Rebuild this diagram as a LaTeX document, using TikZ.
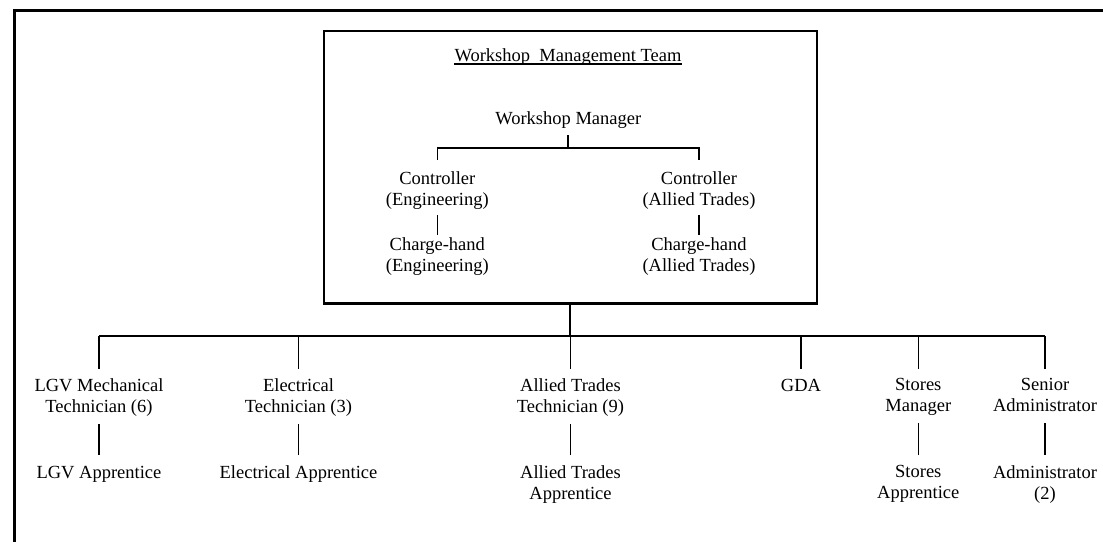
\documentclass[tikz,border=0pt]{standalone}
\usepackage{fontspec}
\setmainfont{Liberation Serif}
\begin{document}
\begin{tikzpicture}[x=1pt,y=-1pt,
  role/.style={align=center,inner sep=0pt,anchor=north,
    font=\fontsize{18.5pt}{21pt}\selectfont,
    execute at begin node={\rule{0pt}{13pt}},
    execute at end node={\rule[-5pt]{0pt}{5pt}}},
  link/.style={line width=1.2pt},
  trunk/.style={line width=2pt},
  frameline/.style={line width=2.8pt},
  teambox/.style={draw,line width=2.4pt,inner sep=0pt,
    minimum width=492.7pt,minimum height=272.6pt}]
\useasboundingbox (0,0) rectangle (1103,541);
\clip (0,0) rectangle (1103,541);

% page frame (left and top edges)
\draw[frameline] (14.7,560) -- (14.7,10.8) -- (1120,10.8);

% management team box
\node[teambox] (team) at (570.35,167) {};
\node[font=\fontsize{18.5pt}{21pt}\selectfont,inner sep=0pt,anchor=base] (title) at (568,61) {Workshop\ \ Management Team};
\draw[line width=1.2pt] ([yshift=-3pt]title.base west) -- ([yshift=-3pt]title.base east);

\node[role] (mgr) at (568.3,111.5) {Workshop Manager};
\node[role] (ce)  at (437.3,171) {Controller\\(Engineering)};
\node[role] (ca)  at (699,171)   {Controller\\(Allied Trades)};
\node[role] (che) at (437.3,237.5) {Charge-hand\\(Engineering)};
\node[role] (cha) at (699,237.5)   {Charge-hand\\(Allied Trades)};

\coordinate (midrow) at (0,148);
\draw[line width=1.8pt,shorten <=5.5pt] (mgr.south) -- (mgr.south |- midrow);
\draw[link,shorten <=11pt,shorten >=11pt] (ce.north) |- (mgr.south |- midrow) -| (ca.north);
\draw[link,shorten <=5pt,shorten >=2.5pt] (ce.south) -- (che.north);
\draw[link,shorten <=5pt,shorten >=2.5pt] (ca.south) -- (cha.north);

% workshop staff
\node[role] (lgv)    at (99,378.3)    {LGV Mechanical\\Technician (6)};
\node[role] (elec)   at (298.5,378.3) {Electrical\\Technician (3)};
\node[role] (allied) at (570.5,378.3) {Allied Trades\\Technician (9)};
\node[role] (gda)    at (801,378.3)   {GDA};
\node[role] (stores) at (918.3,378.3) {Stores\\Manager};
\node[role] (sadm)   at (1045,378.3)  {Senior\\Administrator};

\node[role] (lgva)    at (99,465.5)    {LGV Apprentice};
\node[role] (eleca)   at (298.5,465.5) {Electrical Apprentice};
\node[role] (allieda) at (570.5,465.5) {Allied Trades\\Apprentice};
\node[role] (storesa) at (918.3,465.5) {Stores\\Apprentice};
\node[role] (adm)     at (1045,465.5)  {Administrator\\(2)};

\coordinate (busrow) at (0,336.3);
\draw[trunk] (team.south) -- (team.south |- busrow);
\draw[trunk] (lgv.north |- busrow) -- (sadm.north |- busrow);
\foreach \n in {lgv,elec,allied,gda,stores,sadm}
  \draw[link,shorten >=9.7pt] (\n.north |- busrow) -- (\n.north);
\foreach \a/\b in {lgv/lgva,elec/eleca,allied/allieda,stores/storesa,sadm/adm}
  \draw[link,shorten <=6.3pt,shorten >=10.3pt] (\a.south) -- (\b.north);
\end{tikzpicture}
\end{document}
